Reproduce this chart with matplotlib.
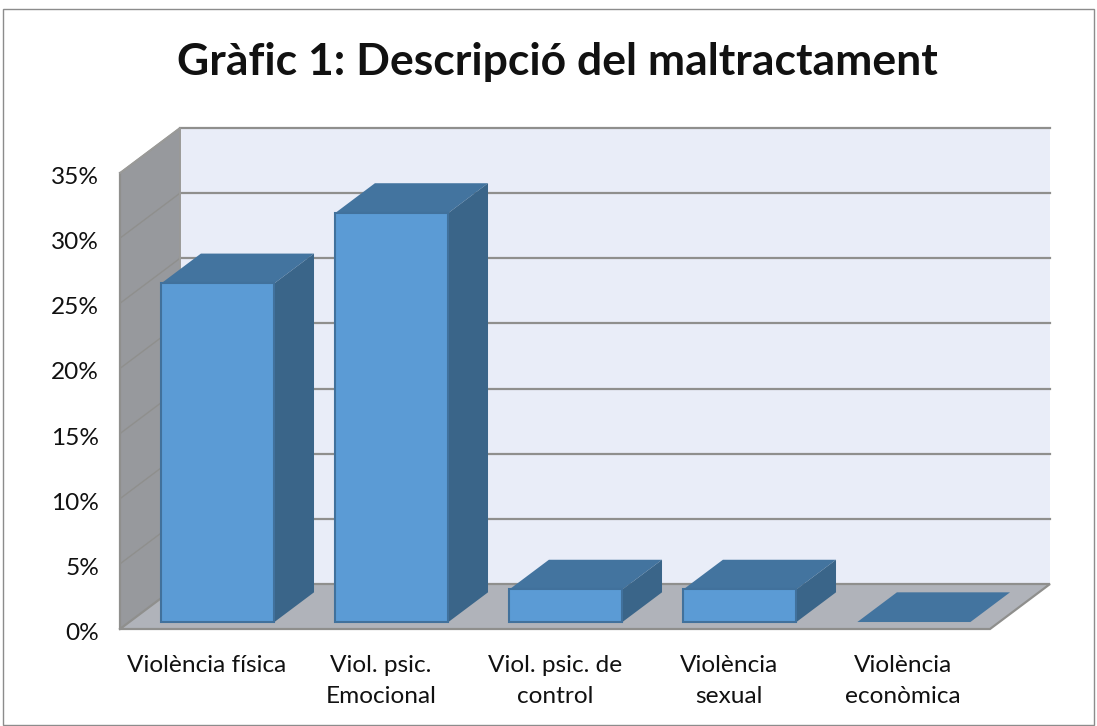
"""Grafic 1: 3D-style column chart drawn on a flat matplotlib axes."""

import matplotlib

matplotlib.use("Agg")
import matplotlib.pyplot as plt
from matplotlib.patches import Polygon, Rectangle
from matplotlib.transforms import ScaledTranslation

plt.rcParams["font.family"] = ["Lato", "DejaVu Sans"]

TITLE = "Gràfic 1: Descripció del maltractament"
categories = [
    "Violència física",
    "Viol. psic.\nEmocional",
    "Viol. psic. de\ncontrol",
    "Violència\nsexual",
    "Violència\neconòmica",
]
values = [26.0, 31.4, 2.5, 2.5, 0.0]
y_ticks = [0, 5, 10, 15, 20, 25, 30, 35]

W, H = 1097, 726
# depth of the 3d box in data units
DX = 60 / 174
DY = 45 / (456 / 35)
BAR_W = 0.65
BAR_SHIFT = 0.009
D0, D1 = 0.155, 0.815

FRONT = "#5B9BD5"
TOP = "#43749F"
SIDE = "#3A6589"
EDGE = "#41719C"
GRID = "#8F8F8D"


def proj(x, y, d):
    return (x + d * DX, y + d * DY)


def poly(ax, pts, color, edge=None, lw=0.0, z=1):
    ax.add_patch(Polygon(pts, closed=True, facecolor=color, edgecolor=edge or color,
                         linewidth=lw, zorder=z, clip_on=False))


def main():
    fig = plt.figure(figsize=(W / 100, H / 100), dpi=100)
    fig.patches.append(Rectangle((2.5 / W, 1 - 725 / H), 1091 / W, 716 / H, transform=fig.transFigure,
                                 facecolor="white", edgecolor="#8c8c8c", linewidth=1.0, zorder=-1))
    ax = fig.add_axes([120 / W, 1 - 629 / H, 870 / W, 456 / H])
    ax.set_xlim(0, 5)
    ax.set_ylim(0, 35)
    ax.patch.set_alpha(0)
    for s in ax.spines.values():
        s.set_visible(False)

    # back wall, left wall, floor
    poly(ax, [proj(0, 0, 1), proj(5, 0, 1), proj(5, 35, 1), proj(0, 35, 1)], "#E9EDF8", z=1)
    poly(ax, [proj(0, 0, 0), proj(0, 0, 1), proj(0, 35, 1), proj(0, 35, 0)], "#97999D", z=2)
    poly(ax, [proj(0, 0, 0), proj(5, 0, 0), proj(5, 0, 1), proj(0, 0, 1)], "#B0B3BA", z=2)

    # gridlines wrap from the back wall onto the left wall
    for t in y_ticks[1:]:
        xs, ys = zip(proj(0, t, 1), proj(5, t, 1))
        ax.plot(xs, ys, color=GRID, lw=1.6, zorder=3, clip_on=False)
        xs, ys = zip(proj(0, t, 0), proj(0, t, 1))
        ax.plot(xs, ys, color=GRID, lw=1.0, zorder=3, clip_on=False)
    xs, ys = zip(proj(0, 35, 0), proj(0, 0, 0), proj(5, 0, 0), proj(5, 0, 1), proj(0, 0, 1), proj(0, 0, 0))
    ax.plot(xs, ys, color=GRID, lw=1.6, zorder=3, clip_on=False, solid_joinstyle="miter")
    xs, ys = zip(proj(0, 35, 0), proj(0, 35, 1), proj(0, 0, 1))
    ax.plot(xs, ys, color="#9A9A98", lw=1.4, zorder=3, clip_on=False)

    # bars
    for i, v in enumerate(values):
        x0 = i + 0.5 - BAR_W / 2 + BAR_SHIFT
        x1 = x0 + BAR_W
        z = 5 + i
        poly(ax, [proj(x0, v, D0), proj(x1, v, D0), proj(x1, v, D1), proj(x0, v, D1)], TOP, z=z)
        if v > 0:
            poly(ax, [proj(x1, 0, D0), proj(x1, 0, D1), proj(x1, v, D1), proj(x1, v, D0)], SIDE, z=z)
            poly(ax, [proj(x0, 0, D0), proj(x1, 0, D0), proj(x1, v, D0), proj(x0, v, D0)], FRONT,
                 edge=EDGE, lw=1.5, z=z + 0.5)

    ax.set_yticks(y_ticks)
    ax.set_yticklabels([f"{t}%" for t in y_ticks])
    ax.set_xticks([i + 0.5 for i in range(len(categories))])
    ax.set_xticklabels(categories, linespacing=1.55)
    ax.tick_params(axis="both", length=0, labelsize=17.6, labelcolor="#111111")
    ax.tick_params(axis="y", pad=15)
    ax.tick_params(axis="x", pad=19)
    # labels sit a little below the tick height in the original
    shift = ScaledTranslation(0, -2.5 / 100, fig.dpi_scale_trans)
    for label in ax.get_yticklabels():
        label.set_transform(label.get_transform() + shift)

    fig.text(557.5 / W, 1 - 62 / H, TITLE, ha="center", va="center", fontsize=32,
             fontweight="bold", color="#111111")

    fig.savefig("out.png", dpi=100)
    plt.close(fig)


if __name__ == "__main__":
    main()
